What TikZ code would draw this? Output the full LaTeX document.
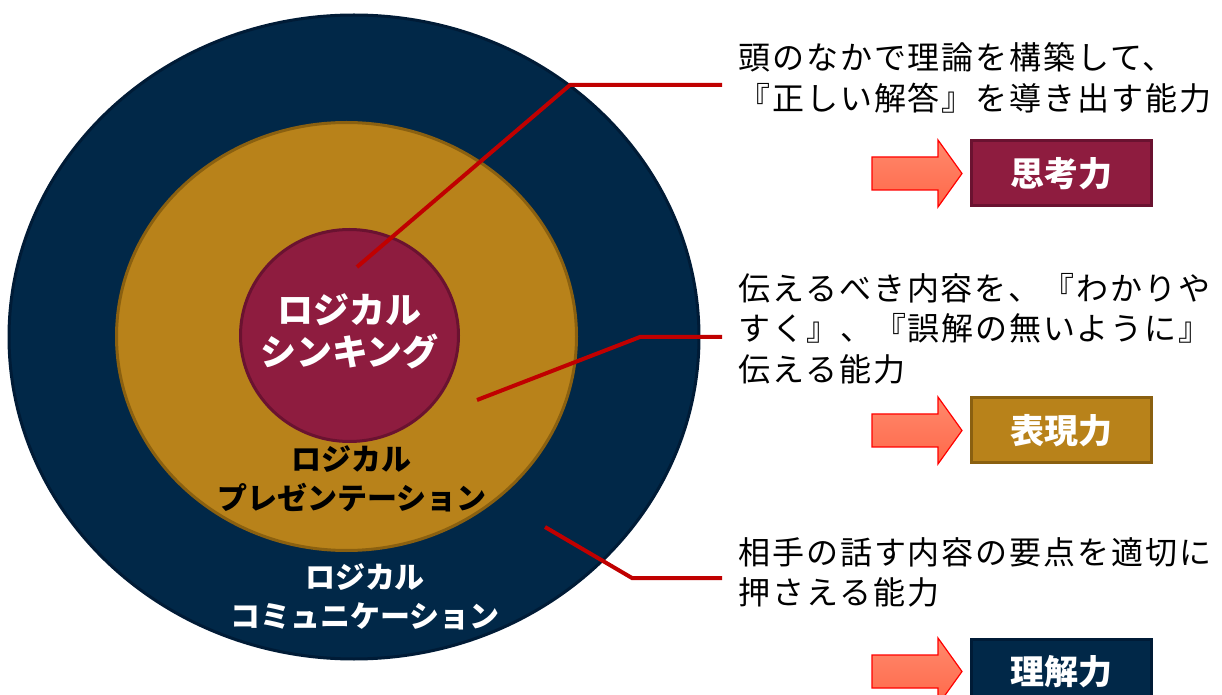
\documentclass[tikz,border=0pt]{standalone}
\usepackage{fontspec}
\usetikzlibrary{shapes.geometric}
\newfontfamily\jp{Noto Sans CJK JP}
\newfontfamily\jpt[LetterSpace=6]{Noto Sans CJK JP}
\definecolor{navy}{HTML}{012848}
\definecolor{navyedge}{HTML}{001B36}
\definecolor{gold}{HTML}{B8821A}
\definecolor{goldedge}{HTML}{8A6010}
\definecolor{wine}{HTML}{8E1C3F}
\definecolor{wineedge}{HTML}{6A1230}
\definecolor{leader}{HTML}{C00000}
\definecolor{arrowfill}{HTML}{FF7452}
\tikzset{
  ring/.style={ellipse, inner sep=0pt, line width=1.5pt},
  lbl/.style={align=center, inner sep=0pt, font=\jp\bfseries\fontsize{15pt}{19.5pt}\selectfont},
  desc/.style={anchor=base west, inner sep=0pt, font=\jpt\fontsize{16pt}{20pt}\selectfont},
  leadline/.style={draw=leader, line width=2pt},
  tagbox/.style={minimum width=90pt, minimum height=32.5pt, inner sep=0pt, line width=1.5pt,
    text=white, font=\jp\bfseries\fontsize{17pt}{20pt}\selectfont},
  bigarrow/.style={draw=red, line width=0.6pt, top color=arrowfill!85!white, bottom color=arrowfill!90!red}
}
\begin{document}
\begin{tikzpicture}[x=0.5pt, y=-0.5pt]
\useasboundingbox (0,0) rectangle (1222,695);
\clip (0,0) rectangle (1222,695);
% rings
\node[ring, fill=navy, draw=navyedge, minimum width=345pt, minimum height=322pt] (outer) at (354,337) {};
\node[ring, fill=gold, draw=goldedge, minimum width=230pt, minimum height=214pt] (middle) at (346.5,336.5) {};
\node[ring, fill=wine, draw=wineedge, minimum width=109pt, minimum height=106pt] (inner) at (349.5,335.5) {};
% ring labels
\node[lbl, text=white, font=\jp\bfseries\fontsize{18pt}{21pt}\selectfont] (lthink) at (349.5,331) {ロジカル\\シンキング};
\node[lbl, text=black] (lpres) at (352,479) {ロジカル\\プレゼンテーション};
\node[lbl, text=white] (lcomm) at (365,597) {ロジカル\\コミュニケーション};
% leader line anchors
\coordinate (s1) at (357,267);
\coordinate (b1) at (570,85);
\coordinate (e1) at (722,85);
\coordinate (s2) at (477,400);
\coordinate (b2) at (640,337);
\coordinate (e2) at (722,337);
\coordinate (s3) at (545,527);
\coordinate (b3) at (632,578);
\coordinate (e3) at (722,578);
\draw[leadline] (s1) -- (b1) -- (e1);
\draw[leadline] (s2) -- (b2) -- (e2);
\draw[leadline] (s3) -- (b3) -- (e3);
% descriptions
\node[desc] (d1a) at (738,70) {頭のなかで理論を構築して、};
\node[desc] (d1b) at (738,111) {『正しい解答』を導き出す能力};
\node[desc] (d2a) at (738,301) {伝えるべき内容を、『わかりや};
\node[desc] (d2b) at (738,341) {すく』、『誤解の無いように』};
\node[desc] (d2c) at (738,382) {伝える能力};
\node[desc] (d3a) at (738,564) {相手の話す内容の要点を適切に};
\node[desc] (d3b) at (738,604) {押さえる能力};
% arrows
\foreach \dy/\nm in {0/a1, 257/a2, 498/a3}{
  \draw[bigarrow] (872,157+\dy) -- (938,157+\dy) -- (938,140+\dy) -- (962,173.5+\dy)
     -- (938,207+\dy) -- (938,190+\dy) -- (872,190+\dy) -- cycle;
}
% tag boxes
\node[tagbox, fill=wine, draw=wineedge] (t1) at (1061,173.5) {思考力};
\node[tagbox, fill=gold, draw=goldedge] (t2) at (1061,430.5) {表現力};
\node[tagbox, fill=navy, draw=navyedge] (t3) at (1061,671.5) {理解力};
\end{tikzpicture}
\end{document}
